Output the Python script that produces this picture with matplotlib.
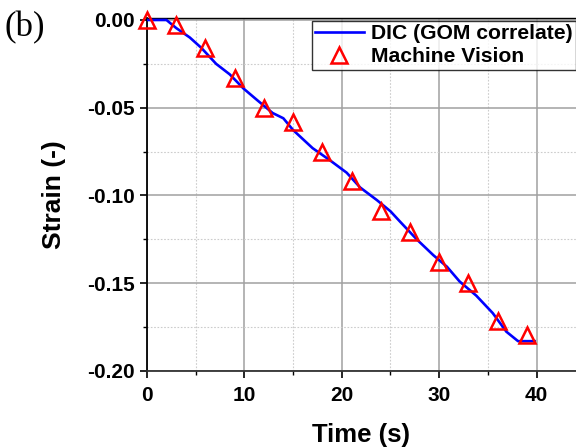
import matplotlib
matplotlib.use("Agg")
import matplotlib.pyplot as plt
from matplotlib.ticker import MultipleLocator, FormatStrFormatter

# DIC (GOM correlate) continuous curve
dic_time = [0, 2, 3, 4.4, 5.6, 7.1, 8.5, 9.9, 11.3, 12.9, 14, 15, 17, 18.8, 20.5, 21.9,
            23.6, 25, 26, 27.7, 29.4, 30.8, 32.1, 33.8, 35.5, 36.9, 38.1, 39.8]
dic_strain = [0.0, 0.0, -0.0046, -0.010, -0.016, -0.0250, -0.031, -0.039, -0.0456, -0.053,
              -0.056, -0.0627, -0.073, -0.080, -0.087, -0.0955, -0.1026, -0.109, -0.115,
              -0.125, -0.134, -0.1406, -0.149, -0.157, -0.167, -0.1776, -0.183, -0.183]

# Machine vision points
mv_time = [0, 3, 6, 9, 12, 15, 18, 21, 24, 27, 30, 33, 36, 39]
mv_strain = [0.0, -0.003, -0.016, -0.033, -0.050, -0.058, -0.075, -0.092, -0.109,
             -0.121, -0.138, -0.150, -0.1715, -0.1795]

x_ticks = [0, 10, 20, 30, 40]
y_ticks = [0.00, -0.05, -0.10, -0.15, -0.20]

plt.rcParams['font.family'] = ['Liberation Sans', 'DejaVu Sans']

fig = plt.figure(figsize=(5.76, 4.48), dpi=100)
ax = fig.add_axes([147/576, 1 - 371/448, 1 - 147/576, (371 - 18.5)/448])

ax.plot(dic_time, dic_strain, color='#0000ff', lw=1.9, label='DIC (GOM correlate)', zorder=3)
ax.plot(mv_time, mv_strain, linestyle='none', marker='^', markersize=11.5,
        markerfacecolor='none', markeredgecolor='#ff0000', markeredgewidth=1.8,
        label='Machine Vision', zorder=4, clip_on=False)

ax.set_xlim(0, 44.05)
ax.set_ylim(-0.20, 0.00085)
ax.set_xticks(x_ticks)
ax.set_yticks(y_ticks)
ax.xaxis.set_minor_locator(MultipleLocator(5))
ax.yaxis.set_minor_locator(MultipleLocator(0.025))
ax.yaxis.set_major_formatter(FormatStrFormatter('%.2f'))

ax.grid(which='major', color='#a0a0a0', lw=1.1, ls='-', zorder=0)
ax.grid(which='minor', color='#cccccc', lw=0.8, ls=(0, (1.5, 1.5)), zorder=0)
ax.set_axisbelow(True)

ax.tick_params(which='major', direction='out', length=5, width=1.2, labelsize=15, pad=4)
ax.tick_params(which='minor', direction='out', length=3, width=1.0)
ax.tick_params(axis='x', which='major', pad=6)
for lab in ax.get_xticklabels() + ax.get_yticklabels():
    lab.set_fontweight('bold')

ax.spines['right'].set_visible(False)
ax.spines['left'].set_linewidth(1.3)
ax.spines['bottom'].set_linewidth(1.3)
ax.spines['bottom'].set_color('#333333')
ax.spines['top'].set_linewidth(1.0)

ax.set_xlabel('Time (s)', fontsize=18.5, fontweight='bold', labelpad=13)
ax.set_ylabel('Strain (-)', fontsize=19, fontweight='bold', labelpad=15)

leg = ax.legend(loc='upper left', bbox_to_anchor=(312/576, 1 - 21/448),
                bbox_transform=fig.transFigure, frameon=True, fancybox=False,
                prop={'weight': 'bold', 'size': 15.2}, handlelength=2.3,
                handletextpad=0.35, borderpad=0.15, labelspacing=0.2, borderaxespad=0)
leg.get_frame().set_edgecolor('black')
leg.get_frame().set_linewidth(1.0)

fig.text(5/576, 1 - 28/448, '(b)', fontsize=25, family=['Liberation Serif'], va='center', ha='left')

fig.savefig('out.png', dpi=100)
